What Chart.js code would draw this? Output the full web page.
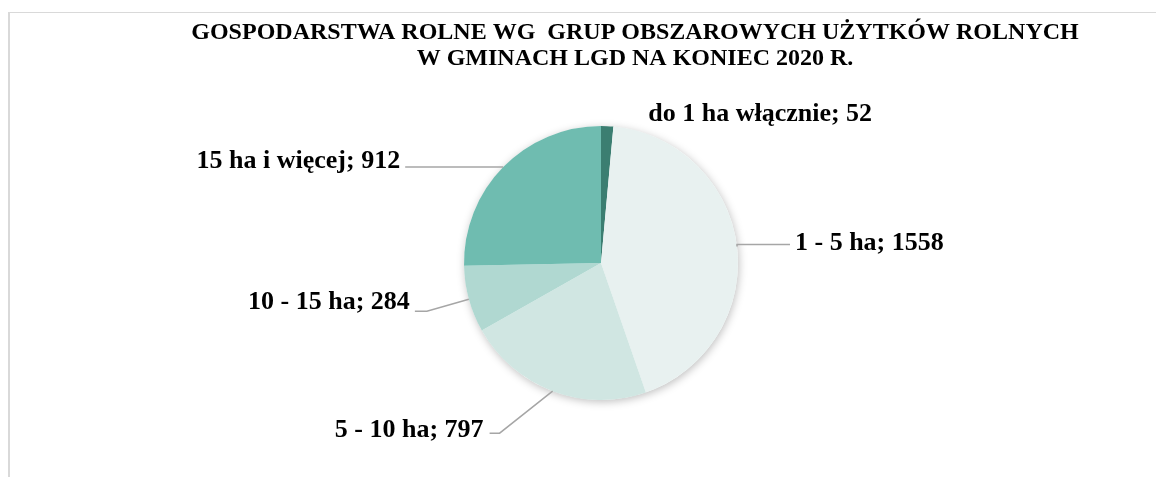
<!DOCTYPE html>
<html>
<head>
<meta charset="utf-8">
<script src="https://cdn.jsdelivr.net/npm/chart.js@4"></script>
<style>
  html, body { margin: 0; padding: 0; background: #fff; overflow: hidden; }
  #wrap { position: relative; width: 1156px; height: 477px; }
  #frame { position: absolute; left: 8px; top: 12px; width: 1200px; height: 500px;
           border-left: 2px solid #d9d9d9; border-top: 1px solid #d9d9d9; }
  canvas { position: absolute; left: 0; top: 0; }
</style>
</head>
<body>
<div id="wrap">
  <div id="frame"></div>
  <canvas id="pieChart" width="1156" height="477"></canvas>
</div>
<script>
// dane //
const categories = ["do 1 ha włącznie", "1 - 5 ha", "5 - 10 ha", "10 - 15 ha", "15 ha i więcej"];
const values = [52, 1558, 797, 284, 912];
const colors = ["#3b7e71", "#e8f1f0", "#d0e6e2", "#b0d8d1", "#6fbcb0"];
const titleLines = ["GOSPODARSTWA ROLNE WG  GRUP OBSZAROWYCH UŻYTKÓW ROLNYCH", "W GMINACH LGD NA KONIEC 2020 R."];

// położenie etykiet względem krawędzi wycinka
const labelLayout = [
  { elbow: [0, 0], run: 0, gap: 41, dy: -12, line: false },
  { elbow: [0, -2], run: 53, gap: 5, dy: -1, line: true },
  { elbow: [-53, 42], run: -10, gap: 6, dy: -3, line: true },
  { elbow: [-42, 12], run: -12, gap: 5, dy: -9, line: true },
  { elbow: [0, 0], run: -98, gap: 5, dy: -6, line: true }
];

const labelFont = 'bold 26px "Liberation Serif", "Times New Roman", serif';

// tytuł
const titlePlugin = {
  id: 'titleText',
  afterDraw(chart) {
    const c = chart.ctx;
    c.save();
    c.fillStyle = '#000';
    c.font = 'bold 24px "Liberation Serif", "Times New Roman", serif';
    c.textAlign = 'center';
    c.textBaseline = 'middle';
    c.fillText(titleLines[0], 635, 33);
    c.fillText(titleLines[1], 635, 59);
    c.restore();
  }
};

// cień pod kołem
const shadowPlugin = {
  id: 'pieShadow',
  beforeDatasetsDraw(chart) {
    const arc = chart.getDatasetMeta(0).data[0];
    const c = chart.ctx;
    c.save();
    c.shadowColor = 'rgba(0,0,0,0.25)';
    c.shadowBlur = 8;
    c.shadowOffsetX = 1;
    c.shadowOffsetY = 2;
    c.fillStyle = '#fff';
    c.beginPath();
    c.arc(arc.x, arc.y, arc.outerRadius, 0, Math.PI * 2);
    c.fill();
    c.restore();
  }
};

// etykiety z liniami odniesienia
const labelPlugin = {
  id: 'outLabels',
  afterDatasetsDraw(chart) {
    const meta = chart.getDatasetMeta(0);
    const c = chart.ctx;
    c.save();
    c.font = labelFont;
    c.textBaseline = 'middle';
    meta.data.forEach((arc, i) => {
      const mid = (arc.startAngle + arc.endAngle) / 2;
      const ex = arc.x + Math.cos(mid) * arc.outerRadius;
      const ey = arc.y + Math.sin(mid) * arc.outerRadius;
      const L = labelLayout[i];
      const bx = ex + L.elbow[0], by = ey + L.elbow[1];
      const hx = bx + L.run;
      if (L.line) {
        c.strokeStyle = '#a6a6a6';
        c.lineWidth = 1.5;
        c.beginPath();
        c.moveTo(ex, ey);
        c.lineTo(bx, by);
        c.lineTo(hx, by);
        c.stroke();
      }
      const right = L.run >= 0 && L.elbow[0] >= 0;
      c.textAlign = right ? 'left' : 'right';
      c.fillStyle = '#000';
      const tx = right ? hx + L.gap : hx - L.gap;
      c.fillText(categories[i] + '; ' + values[i], tx, by + L.dy);
    });
    c.restore();
  }
};

var ctx = document.getElementById("pieChart").getContext('2d');
var myChart = new Chart(ctx, {
  type: 'pie',
  data: {
    labels: categories,
    datasets: [{
      data: values,
      backgroundColor: colors,
      borderWidth: 0,
      hoverOffset: 0
    }]
  },
  options: {
    responsive: false,
    animation: false,
    layout: {
      padding: { top: 126, bottom: 77, left: 464, right: 418 }
    },
    plugins: {
      legend: { display: false },
      tooltip: { enabled: false },
      title: { display: false }
    }
  },
  plugins: [shadowPlugin, labelPlugin, titlePlugin]
});
</script>
</body>
</html>
